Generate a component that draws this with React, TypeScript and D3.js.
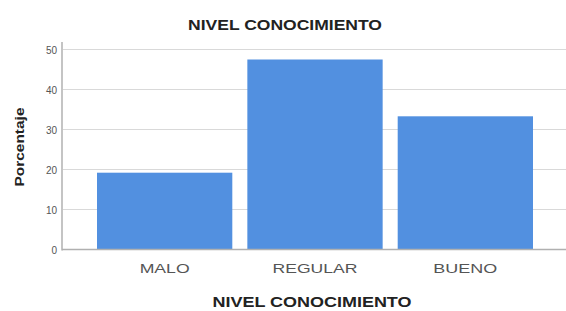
import * as d3 from 'd3';
import React, { useRef, useEffect } from 'react';

const categories = ["MALO", "REGULAR", "BUENO"];
const values = [19.2, 47.5, 33.3];
const yTicks = [0, 10, 20, 30, 40, 50];
const title = "NIVEL CONOCIMIENTO";
const xTitle = "NIVEL CONOCIMIENTO";
const yTitle = "Porcentaje";

function Chart({ width, height }: { width: number; height: number }) {
    const ref = useRef<SVGSVGElement>(null);

    useEffect(() => {
        draw();
    }, []);

    const draw = () => {
        const svg = d3.select(ref.current);
        svg.selectAll("*").remove();

        const axis_x = 62;
        const bar_color = "#5290e0";
        const font = "Arial, 'Liberation Sans', sans-serif";

        const x = d3.scaleBand<string>()
            .domain(categories)
            .range([97, 533])
            .paddingInner(0.1)
            .paddingOuter(0);

        const y = d3.scaleLinear()
            .domain([0, 50])
            .range([249.5, 49.5]);

        svg.append("rect")
            .attr("width", width)
            .attr("height", height)
            .attr("fill", "#ffffff");

        // grid
        svg.append("g")
            .selectAll("line")
            .data(yTicks.filter(d => d > 0))
            .enter()
            .append("line")
            .attr("x1", axis_x)
            .attr("x2", width)
            .attr("y1", d => y(d))
            .attr("y2", d => y(d))
            .attr("stroke", "#d9d9d9")
            .attr("stroke-width", 1.2);

        // bars
        svg.append("g")
            .selectAll("rect")
            .data(values)
            .enter()
            .append("rect")
            .attr("x", (d, i) => x(categories[i])!)
            .attr("width", x.bandwidth())
            .attr("y", d => y(d))
            .attr("height", d => y(0) - y(d))
            .attr("fill", bar_color);

        // axes lines
        svg.append("line")
            .attr("x1", axis_x).attr("x2", axis_x)
            .attr("y1", 42).attr("y2", y(0) + 1)
            .attr("stroke", "#c4c4c4")
            .attr("stroke-width", 2);
        svg.append("line")
            .attr("x1", axis_x).attr("x2", width)
            .attr("y1", y(0)).attr("y2", y(0))
            .attr("stroke", "#b0b0b0")
            .attr("stroke-width", 1.5);

        // y tick labels
        svg.append("g")
            .selectAll("text")
            .data(yTicks)
            .enter()
            .append("text")
            .attr("x", 57)
            .attr("y", d => y(d) + 4)
            .attr("text-anchor", "end")
            .attr("font-family", font)
            .attr("font-size", "10px")
            .attr("fill", "#555")
            .text(d => d);

        // x category labels
        svg.append("g")
            .selectAll("text")
            .data(categories)
            .enter()
            .append("text")
            .attr("x", d => x(d)! + x.bandwidth() / 2)
            .attr("y", 273)
            .attr("text-anchor", "middle")
            .attr("font-family", font)
            .attr("font-size", "13px")
            .attr("fill", "#555")
            .attr("textLength", d => d === "MALO" ? 50 : d === "REGULAR" ? 85 : 64)
            .attr("lengthAdjust", "spacingAndGlyphs")
            .text(d => d);

        // title
        svg.append("text")
            .attr("x", 285)
            .attr("y", 30)
            .attr("text-anchor", "middle")
            .attr("font-family", font)
            .attr("font-weight", "bold")
            .attr("font-size", "14px")
            .attr("fill", "#222")
            .attr("textLength", 194)
            .attr("lengthAdjust", "spacingAndGlyphs")
            .text(title);

        // x axis title
        svg.append("text")
            .attr("x", 312)
            .attr("y", 307)
            .attr("text-anchor", "middle")
            .attr("font-family", font)
            .attr("font-weight", "bold")
            .attr("font-size", "14px")
            .attr("fill", "#222")
            .attr("textLength", 199)
            .attr("lengthAdjust", "spacingAndGlyphs")
            .text(xTitle);

        // y axis title
        svg.append("text")
            .attr("transform", "translate(24,147) rotate(-90)")
            .attr("text-anchor", "middle")
            .attr("font-family", font)
            .attr("font-weight", "bold")
            .attr("font-size", "13px")
            .attr("fill", "#222")
            .attr("textLength", 79)
            .attr("lengthAdjust", "spacingAndGlyphs")
            .text(yTitle);
    };

    return (
        <svg ref={ref} width={width} height={height} style={{ display: "block" }}></svg>
    );
}

export default function App() {
    return (
        <div style={{ position: "absolute", left: 0, top: 0 }}>
            <Chart width={566} height={311} />
        </div>
    );
}
